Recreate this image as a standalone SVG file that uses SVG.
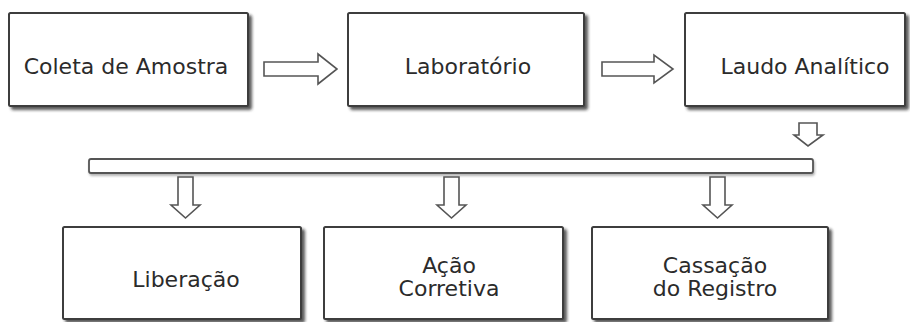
<svg xmlns="http://www.w3.org/2000/svg" width="910" height="322" viewBox="0 0 910 322">
<defs>
<filter id="sh" x="-10%" y="-10%" width="130%" height="140%">
<feDropShadow dx="3" dy="3" stdDeviation="1.6" flood-color="#222" flood-opacity="0.75"/>
</filter>
<filter id="sh2" x="-5%" y="-30%" width="110%" height="180%">
<feDropShadow dx="1" dy="2" stdDeviation="1" flood-color="#444" flood-opacity="0.4"/>
</filter>
</defs>
<style>
.box{fill:#fff;stroke:#3c3c3c;stroke-width:2;filter:url(#sh)}
.t{font-family:"DejaVu Sans",Verdana,sans-serif;font-size:22px;fill:#2b2b2b;text-anchor:middle}
.ar{fill:#fff;stroke:#555;stroke-width:1.6;stroke-linejoin:miter}
.bar{fill:#fff;stroke:#555;stroke-width:1.8;filter:url(#sh2)}
</style>
<rect width="910" height="322" fill="#fff"/>
<g id="connectors">
<path class="ar" d="M264 62 H318 V54 L337 69 L318 84 V76 H264 Z"/>
<path class="ar" d="M602 62 H654 V55 L673 69 L654 83 V76 H602 Z"/>
<path class="ar" d="M799 123 H817 V135 H823 L808 146 L794 135 H799 Z"/>
<rect class="bar" x="89" y="159" width="724" height="14" rx="2"/>
<path class="ar" d="M178 177 H193 V205 H200 L185.5 218 L171 205 H178 Z"/>
<path class="ar" d="M444 177 H459 V205 H466 L451.5 218 L437 205 H444 Z"/>
<path class="ar" d="M710 177 H725 V205 H732 L717.5 218 L703 205 H710 Z"/>
</g>
<g id="coleta">
<rect class="box" x="9" y="13" width="239" height="93" rx="1.5"/>
<text class="t" x="126" y="74">Coleta de Amostra</text>
</g>
<g id="laboratorio">
<rect class="box" x="348" y="13" width="236" height="93" rx="1.5"/>
<text class="t" x="468" y="74">Laboratório</text>
</g>
<g id="laudo">
<rect class="box" x="685" y="13" width="220" height="93" rx="1.5"/>
<text class="t" x="805" y="74">Laudo Analítico</text>
</g>
<g id="liberacao">
<rect class="box" x="63" y="227" width="238" height="92" rx="1.5"/>
<text class="t" x="186" y="287">Liberação</text>
</g>
<g id="acao">
<rect class="box" x="324" y="227" width="239" height="92" rx="1.5"/>
<text class="t" x="449" y="273">Ação</text>
<text class="t" x="449" y="296">Corretiva</text>
</g>
<g id="cassacao">
<rect class="box" x="592" y="227" width="236" height="92" rx="1.5"/>
<text class="t" x="715" y="273">Cassação</text>
<text class="t" x="715" y="296">do Registro</text>
</g>
</svg>
